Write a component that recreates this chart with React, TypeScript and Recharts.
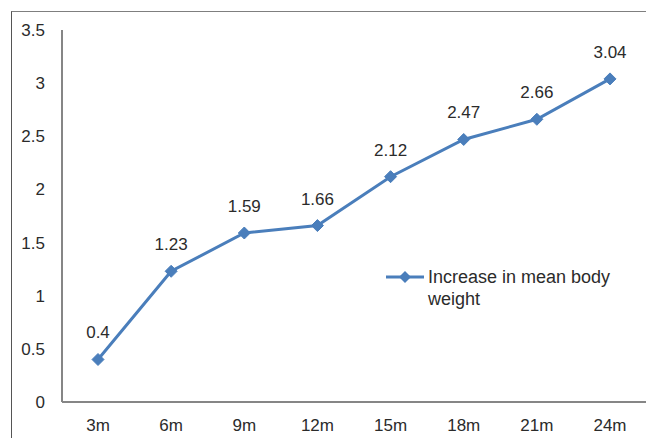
import React from "react";
import { LineChart, Line, XAxis, YAxis, LabelList } from "recharts";

const months = ["3m", "6m", "9m", "12m", "15m", "18m", "21m", "24m"];
const weightGain = [0.4, 1.23, 1.59, 1.66, 2.12, 2.47, 2.66, 3.04];
const yTicks = [0, 0.5, 1, 1.5, 2, 2.5, 3, 3.5];

const seriesName = "Increase in mean body weight";
const blue = "#4a7ebb";
const textColor = "#2b2b2b";
const axisColor = "#868686";
const font = "'Liberation Sans', Arial, sans-serif";

const data = months.map((m, i) => ({ month: m, value: weightGain[i] }));

const Diamond = (props: any) => {
  const { cx, cy } = props;
  if (cx == null || cy == null) return null;
  const r = 6;
  return (
    <polygon
      points={`${cx},${cy - r} ${cx + r},${cy} ${cx},${cy + r} ${cx - r},${cy}`}
      fill={blue}
      stroke={blue}
    />
  );
};

const LegendBox = () => (
  <div
    style={{
      position: "absolute",
      left: 386,
      top: 266,
      display: "flex",
      alignItems: "flex-start",
      fontFamily: font,
      fontSize: 18,
      color: textColor,
    }}
  >
    <svg width={40} height={22} style={{ flex: "none" }}>
      <line x1={0} y1={11} x2={38} y2={11} stroke={blue} strokeWidth={3} />
      <polygon points="19,5 25,11 19,17 13,11" fill={blue} />
    </svg>
    <div style={{ width: 210, lineHeight: "22px", marginLeft: 2 }}>{seriesName}</div>
  </div>
);

export default function App() {
  return (
    <div style={{ position: "absolute", left: 0, top: 0, width: 646, height: 438, background: "#fff", overflow: "hidden" }}>
      <div
        style={{
          position: "absolute",
          left: 11,
          top: 11,
          width: 700,
          height: 500,
          borderTop: "1.5px solid #7f7f7f",
          borderLeft: "1.5px solid #555",
        }}
      />
      <LineChart
        width={646}
        height={438}
        data={data}
        margin={{ top: 30, right: 0, bottom: 0, left: 0 }}
        style={{ position: "absolute", left: 0, top: 0 }}
      >
        <XAxis
          dataKey="month"
          tickLine={false}
          tickSize={0}
          tickMargin={17}
          stroke={axisColor}
          strokeWidth={2}
          padding={{ left: 36, right: 36 }}
          tick={{ fill: textColor, fontSize: 17, fontFamily: font }}
          height={36}
        />
        <YAxis
          domain={[0, 3.5]}
          ticks={yTicks}
          width={62}
          tickLine={false}
          tickSize={0}
          tickMargin={17}
          stroke={axisColor}
          strokeWidth={2}
          tick={{ fill: textColor, fontSize: 17, fontFamily: font }}
        />
        <Line
          type="linear"
          dataKey="value"
          name={seriesName}
          stroke={blue}
          strokeWidth={3}
          dot={<Diamond />}
          activeDot={false}
          isAnimationActive={false}
        >
          <LabelList
            dataKey="value"
            position="top"
            offset={21}
            fill={textColor}
            fontSize={17}
            fontFamily={font}
          />
        </Line>
      </LineChart>
      <LegendBox />
    </div>
  );
}
